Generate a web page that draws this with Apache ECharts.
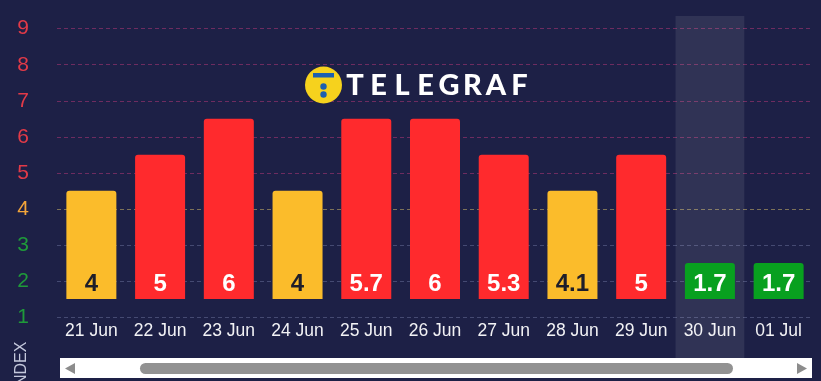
<!DOCTYPE html>
<html>
<head>
<meta charset="utf-8">
<script src="https://cdn.jsdelivr.net/npm/echarts@6/dist/echarts.min.js"></script>
<style>
html,body{margin:0;padding:0;background:#1d2046;}
#c{width:821px;height:381px;}
</style>
</head>
<body>
<div id="c"></div>
<script>
// ---- data ----
var categories = ['21 Jun','22 Jun','23 Jun','24 Jun','25 Jun','26 Jun','27 Jun','28 Jun','29 Jun','30 Jun','01 Jul'];
var indexValues = [4, 5, 6, 4, 5.7, 6, 5.3, 4.1, 5, 1.7, 1.7];   // printed values
var barTops = [4.5, 5.5, 6.5, 4.5, 6.5, 6.5, 5.5, 4.5, 5.5, 2.5, 2.5]; // bar top on the index axis
var barBase = 1.5;
var highlight = [0,0,0,0,0,0,0,0,0,1,0];
var yTicks = [1,2,3,4,5,6,7,8,9];

var RED = '#ff2a2d', YEL = '#fbbc2b', GRN = '#08a01f';
function levelColor(v){ return v >= 5 ? RED : (v >= 4 ? YEL : GRN); }
function tickColor(v){ return v >= 5 ? '#e23a48' : (v >= 4 ? '#f3a53a' : '#1f9a3a'); }

var chart = echarts.init(document.getElementById('c'), null, {renderer:'canvas'});

var baseData = categories.map(function(){ return barBase; });
var topData = barTops.map(function(t, i){
  var lvl = Math.round(indexValues[i]);
  return {
    value: +(t - barBase).toFixed(2),
    itemStyle: { color: levelColor(lvl) },
    label: { color: lvl === 4 ? '#1e1e2a' : '#ffffff' }
  };
});
var bandData = highlight.map(function(h){ return h ? 1 : null; });

var letters = 'TELEGRAF'.split('');
var logo = [
  { type:'circle', shape:{cx:323.5, cy:85, r:18.5}, style:{fill:'#f6d21d'}, z:10 },
  { type:'rect', shape:{x:313, y:73, width:21, height:4.5}, style:{fill:'#1d5fb0'}, z:11 },
  { type:'circle', shape:{cx:323.5, cy:86.5, r:3.2}, style:{fill:'#1d5fb0'}, z:11 },
  { type:'circle', shape:{cx:323.5, cy:94.5, r:3.2}, style:{fill:'#1d5fb0'}, z:11 }
];
letters.forEach(function(ch, i){
  logo.push({ type:'text', x: 355 + 23.5*i, y: 86, z:11,
    style:{ text: ch, fill:'#ffffff', font:'900 29px "Lato", "Liberation Sans", Arial, sans-serif',
            textAlign:'center', textVerticalAlign:'middle' } });
});
var scrollbar = [
  { type:'rect', shape:{x:60, y:358, width:752, height:20}, style:{fill:'#ffffff'}, z:10 },
  { type:'rect', shape:{x:140, y:363, width:593, height:11, r:5.5}, style:{fill:'#929292'}, z:11 },
  { type:'polygon', shape:{points:[[65,368.5],[75,363],[75,374]]}, style:{fill:'#8c8c8c'}, z:11 },
  { type:'polygon', shape:{points:[[807,368.5],[797,363],[797,374]]}, style:{fill:'#8c8c8c'}, z:11 },
  { type:'text', x:22, y:366, rotation: Math.PI/2, z:11,
    style:{ text:'INDEX', fill:'#c4c8dc', font:'16px "Liberation Sans", Arial, sans-serif',
            textAlign:'center', textVerticalAlign:'middle' } }
];

chart.setOption({
  backgroundColor: '#1d2046',
  animation: false,
  grid: [
    { left: 57, right: 8, top: 28.7, bottom: 64 },
    { left: 57, right: 8, top: 16, bottom: 23 }
  ],
  xAxis: [
    { type:'category', gridIndex:0, data: categories,
      axisLine:{show:false}, axisTick:{show:false},
      axisLabel:{ color:'#f2f2f5', fontSize:17.5, margin:5, fontFamily:'"Liberation Sans", Arial, sans-serif' } },
    { type:'category', gridIndex:1, data: categories, show:false }
  ],
  yAxis: [
    { type:'value', gridIndex:0, min: yTicks[0], max: yTicks[yTicks.length-1], interval: 1,
      axisLine:{show:false}, axisTick:{show:false},
      axisLabel:{ margin: 28, fontSize: 21, fontFamily:'"Liberation Sans", Arial, sans-serif',
        formatter: function(v){ return '{c' + v + '|' + v + '}'; },
        rich: (function(){ var r = {}; yTicks.forEach(function(t){ r['c'+t] = {color: tickColor(t), fontSize:21}; }); return r; })() },
      splitLine:{ show:true, lineStyle:{ type:[4,3], width:1,
        color: yTicks.map(function(t){ return t >= 5 ? '#6e2c60' : (t >= 4 ? '#7d7258' : '#454a72'); }) } } },
    { type:'value', gridIndex:1, min:0, max:1, show:false }
  ],
  series: [
    { type:'bar', xAxisIndex:1, yAxisIndex:1, data: bandData, barWidth:'100%',
      itemStyle:{ color:'rgba(255,255,255,0.085)' }, z:1, silent:true },
    { type:'bar', stack:'idx', data: baseData, barWidth: 50,
      itemStyle:{ color:'rgba(0,0,0,0)' }, silent:true, z:3 },
    { type:'bar', stack:'idx', data: topData, barWidth: 50, z:3,
      itemStyle:{ borderRadius:[3,3,0,0] },
      label:{ show:true, position:'insideBottom', distance:3, fontSize:24, fontWeight:'bold',
        fontFamily:'"Liberation Sans", Arial, sans-serif',
        formatter: function(p){ return String(indexValues[p.dataIndex]); } } }
  ],
  graphic: logo.concat(scrollbar)
});
</script>
</body>
</html>
